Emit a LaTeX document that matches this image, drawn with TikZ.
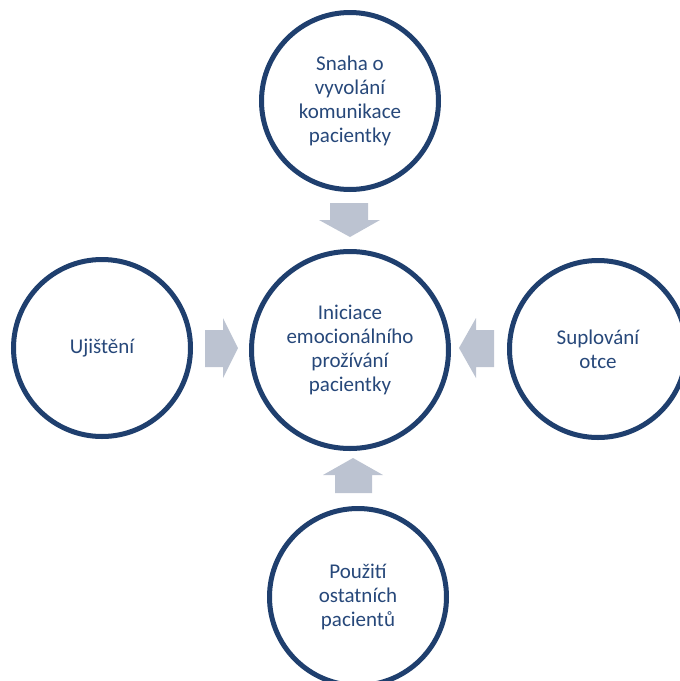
\documentclass[tikz,border=0pt]{standalone}
\usepackage{fontspec}
\setmainfont{Carlito}
\definecolor{ringblue}{HTML}{1F3F6E}
\definecolor{txtblue}{HTML}{27487A}
\definecolor{arrowgray}{HTML}{BCC3D1}
\begin{document}
\begin{tikzpicture}[x=1pt,y=-1pt,
  ring/.style={circle,draw=ringblue,line width=5pt,fill=white,text=txtblue,
    align=center,inner sep=0pt,font=\fontsize{21}{24}\selectfont},
  blockarrow/.style={fill=arrowgray,draw=none}]
\useasboundingbox (0,0) rectangle (680,681);
\clip (0,0) rectangle (680,681);
\node[ring,minimum size=177pt] (top) at (350,101) {Snaha o\\vyvolání\\komunikace\\pacientky};
\node[ring,minimum size=197pt] (mid) at (350,350) {Iniciace\\emocionálního\\prožívání\\pacientky};
\node[ring,minimum size=177pt] (left) at (102,348) {Ujištění};
\node[ring,minimum size=177pt] (right) at (598,349) {Suplování\\otce};
\node[ring,minimum size=177pt] (bot) at (358,597) {Použití\\ostatních\\pacientů};
% block arrows
\coordinate (tdown) at (350,237);
\coordinate (tup) at (353,458);
\coordinate (tright) at (238,348);
\coordinate (tleft) at (459,348);
\fill[blockarrow] (330,203) -- (368,203) -- (368,220) -- (380,220) -- (tdown) -- (319,220) -- (330,220) -- cycle;
\fill[blockarrow] (335,493) -- (372,493) -- (372,475) -- (383,475) -- (tup) -- (323,475) -- (335,475) -- cycle;
\fill[blockarrow] (205,330) -- (223,330) -- (223,318) -- (tright) -- (223,378) -- (223,367) -- (205,367) -- cycle;
\fill[blockarrow] (494,330) -- (476,330) -- (476,318) -- (tleft) -- (476,378) -- (476,367) -- (494,367) -- cycle;
\end{tikzpicture}
\end{document}
